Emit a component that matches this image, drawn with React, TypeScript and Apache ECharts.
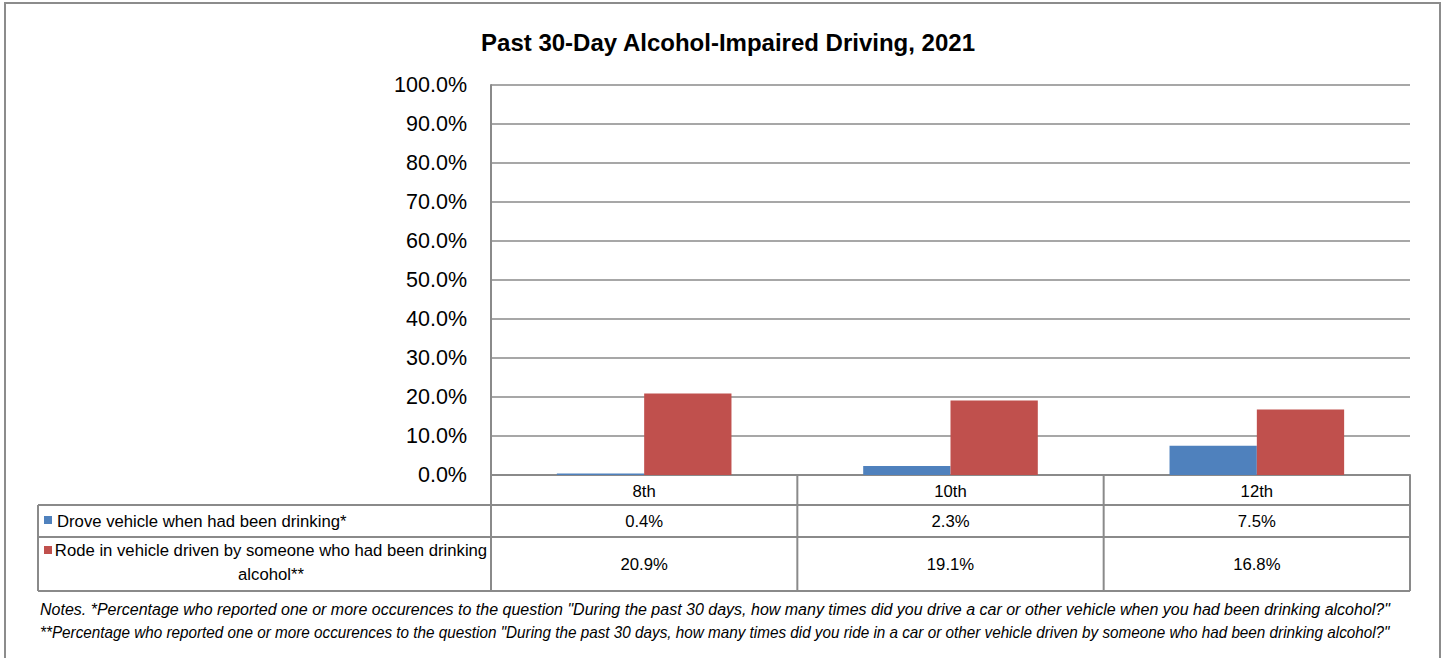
import React, { useEffect, useRef } from "react";
import * as echarts from "echarts";

const title = "Past 30-Day Alcohol-Impaired Driving, 2021";
const categories = ["8th", "10th", "12th"];
const seriesNames = [
  "Drove vehicle when had been drinking*",
  "Rode in vehicle driven by someone who had been drinking\nalcohol**",
];
const droveValues = [0.4, 2.3, 7.5];
const rodeValues = [20.9, 19.1, 16.8];
const colors = ["#4F81BD", "#C0504D"];
const notes = [
  'Notes. *Percentage who reported one or more occurences to the question "During the past 30 days, how many times did you drive a car or other vehicle when you had been drinking alcohol?"',
  '**Percentage who reported one or more occurences to the question "During the past 30 days, how many times did you ride in a car or other vehicle driven by someone who had been drinking alcohol?"',
];

const FONT = "'Liberation Sans', Arial, sans-serif";
const W = 1445;
const H = 658;
const GL = 491;
const GR = 1410;
const GT = 85;
const GB = 475;
const ROW1 = 505;
const ROW2 = 537;
const ROW3 = 591;
const TABLE_LEFT = 38;
const LINE = "#8a8a8a";
const TFS = 16.7;
const NOTE_SCALE = [1, 0.955];

export default function App() {
  const ref = useRef<HTMLDivElement>(null);
  useEffect(() => {
    if (!ref.current) return;
    const chart = echarts.init(ref.current, undefined, { renderer: "svg" });
    const colW = (GR - GL) / categories.length;
    const graphics: any[] = [];
    graphics.push({
      type: "rect",
      shape: { x: 5, y: 3, width: 1435, height: 700 },
      style: { fill: "none", stroke: "#8c8c8c", lineWidth: 2 },
      silent: true,
    });
    const hl = (y: number, x1: number, x2: number) =>
      graphics.push({
        type: "line",
        shape: { x1, y1: y, x2, y2: y },
        style: { stroke: LINE, lineWidth: 2 },
      });
    const vl = (x: number, y1: number, y2: number) =>
      graphics.push({
        type: "line",
        shape: { x1: x, y1, x2: x, y2 },
        style: { stroke: LINE, lineWidth: 2 },
      });
    hl(ROW1, TABLE_LEFT, GR);
    hl(ROW2, TABLE_LEFT, GR);
    hl(ROW3, TABLE_LEFT, GR);
    vl(TABLE_LEFT, ROW1, ROW3);
    for (let i = 0; i <= categories.length; i++) vl(GL + colW * i, GB, ROW3);
    graphics.push({
      type: "rect",
      shape: { x: 44, y: 516, width: 8, height: 8 },
      style: { fill: colors[0] },
    });
    graphics.push({
      type: "rect",
      shape: { x: 44, y: 546, width: 8, height: 8 },
      style: { fill: colors[1] },
    });
    graphics.push({
      type: "text",
      x: 57,
      y: 521,
      style: {
        text: seriesNames[0],
        font: `${TFS}px ${FONT}`,
        fill: "#000",
        textAlign: "left",
        textVerticalAlign: "middle",
      },
    });
    graphics.push({
      type: "text",
      x: 271,
      y: 562,
      style: {
        text: seriesNames[1],
        font: `${TFS}px ${FONT}`,
        fill: "#000",
        textAlign: "center",
        textVerticalAlign: "middle",
        lineHeight: 24,
      },
    });
    const fmt = (v: number) => v.toFixed(1) + "%";
    droveValues.forEach((v, i) =>
      graphics.push({
        type: "text",
        x: GL + colW * (i + 0.5),
        y: (ROW1 + ROW2) / 2,
        style: {
          text: fmt(v),
          font: `${TFS}px ${FONT}`,
          fill: "#000",
          textAlign: "center",
          textVerticalAlign: "middle",
        },
      })
    );
    rodeValues.forEach((v, i) =>
      graphics.push({
        type: "text",
        x: GL + colW * (i + 0.5),
        y: (ROW2 + ROW3) / 2,
        style: {
          text: fmt(v),
          font: `${TFS}px ${FONT}`,
          fill: "#000",
          textAlign: "center",
          textVerticalAlign: "middle",
        },
      })
    );
    notes.forEach((n, i) =>
      graphics.push({
        type: "text",
        x: 40,
        y: 609 + i * 23,
        scaleX: NOTE_SCALE[i],
        style: {
          text: n,
          font: `italic 16px ${FONT}`,
          fill: "#000",
          textAlign: "left",
          textVerticalAlign: "middle",
        },
      })
    );

    chart.setOption({
      animation: false,
      backgroundColor: "#fff",
      title: {
        text: title,
        left: 723,
        top: 25,
        textAlign: "center",
        textStyle: {
          fontFamily: FONT,
          fontSize: 24,
          fontWeight: "bold",
          color: "#000",
        },
      },
      grid: { left: GL, right: W - GR, top: GT, bottom: H - GB, containLabel: false },
      xAxis: {
        type: "category",
        data: categories,
        axisLine: { lineStyle: { color: LINE, width: 2 } },
        axisTick: { show: false },
        axisLabel: {
          margin: 8,
          fontFamily: FONT,
          fontSize: TFS,
          color: "#000",
        },
      },
      yAxis: {
        type: "value",
        min: 0,
        max: 100,
        interval: 10,
        axisLine: { show: true, lineStyle: { color: LINE, width: 2 } },
        axisTick: { show: false },
        splitLine: { lineStyle: { color: LINE, width: 1.5 } },
        axisLabel: {
          margin: 24,
          fontFamily: FONT,
          fontSize: 21.5,
          color: "#000",
          formatter: (v: number) => v.toFixed(1) + "%",
        },
      },
      series: [
        {
          name: seriesNames[0],
          type: "bar",
          data: droveValues,
          itemStyle: { color: colors[0] },
          barGap: "0%",
          barCategoryGap: "43%",
        },
        {
          name: seriesNames[1],
          type: "bar",
          data: rodeValues,
          itemStyle: { color: colors[1] },
          barGap: "0%",
          barCategoryGap: "43%",
        },
      ],
      graphic: graphics,
    });
    return () => chart.dispose();
  }, []);
  return (
    <div
      ref={ref}
      style={{ position: "fixed", left: 0, top: 0, width: W, height: H }}
    />
  );
}
